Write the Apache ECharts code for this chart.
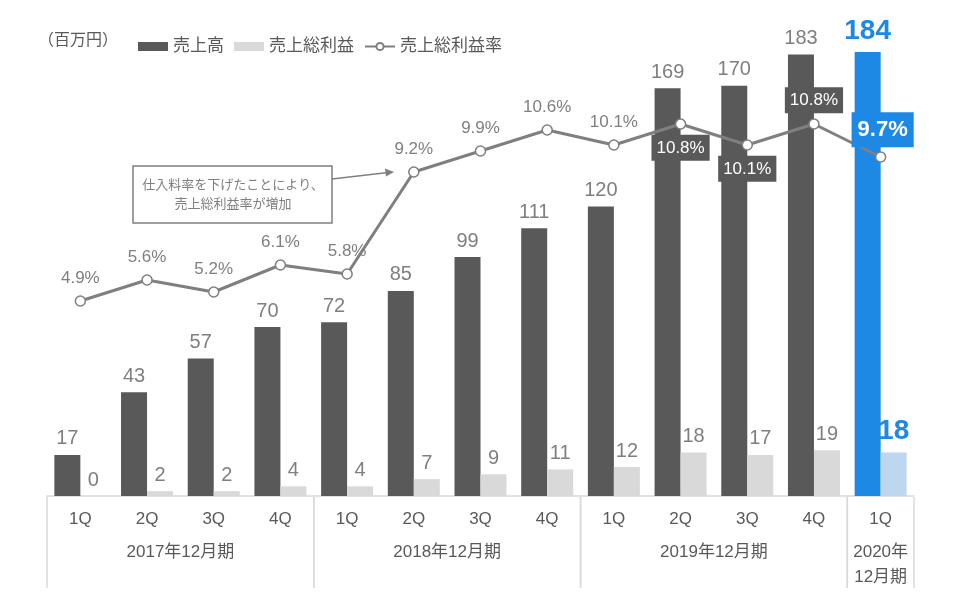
<!DOCTYPE html>
<html>
<head>
<meta charset="utf-8">
<script src="https://cdn.jsdelivr.net/npm/echarts@6/dist/echarts.min.js"></script>
<style>html,body{margin:0;padding:0;background:#fff}#c{width:954px;height:604px}</style>
</head>
<body>
<div id="c"></div>
<script>
const quarters = ['1Q','2Q','3Q','4Q','1Q','2Q','3Q','4Q','1Q','2Q','3Q','4Q','1Q'];
const yearGroups = [
  {start:0, end:3, label:'2017年12月期'},
  {start:4, end:7, label:'2018年12月期'},
  {start:8, end:11, label:'2019年12月期'},
  {start:12, end:12, label:'2020年\n12月期'}
];
const sales = [17,43,57,70,72,85,99,111,120,169,170,183,184];
const grossProfit = [0,2,2,4,4,7,9,11,12,18,17,19,18];
const grossMargin = [4.9,5.6,5.2,6.1,5.8,9.2,9.9,10.6,10.1,10.8,10.1,10.8,9.7];

const FONT = '"Liberation Sans", "Noto Sans CJK JP", sans-serif';
const DARK = '#595959', LIGHT = '#d9d9d9', BLUE = '#1e88e5', LBLUE = '#bdd7ee', GRAY = '#7f7f7f';
const last = sales.length - 1;

const salesData = sales.map((v,i)=> i===last ? {value:v, itemStyle:{color:BLUE},
  label:{color:BLUE, fontSize:28, fontWeight:'bold', distance:7}} : v);
const gpData = grossProfit.map((v,i)=> i===last ? {value:v, itemStyle:{color:LBLUE},
  label:{color:BLUE, fontSize:28, fontWeight:'bold', distance:7}} : v);
const boxLabel = (pos)=>({position:pos, distance:5, color:'#fff', backgroundColor:DARK, padding:[5,5,4,5], fontSize:17});
const marginData = grossMargin.map((v,i)=>{
  if (i===9 || i===10) return {value:v, label:boxLabel('bottom')};
  if (i===11) return {value:v, label:boxLabel('top')};
  if (i===last) return {value:v, label:{position:'top', distance:4, offset:[2,0], color:'#fff', backgroundColor:BLUE,
    padding:[7,6,6,6], fontSize:22, fontWeight:'bold'}};
  return v;
});

const chart = echarts.init(document.getElementById('c'));
chart.setOption({
  animation:false,
  textStyle:{fontFamily:FONT},
  legend:{
    left:133, top:33, itemWidth:30, itemHeight:9, itemGap:10,
    textStyle:{fontSize:17, color:DARK, fontFamily:FONT},
    data:[{name:'売上高', icon:'rect'},{name:'売上総利益', icon:'rect'},{name:'売上総利益率'}]
  },
  grid:[
    {left:47, right:40, top:52, bottom:108},
    {left:47, right:40, top:497, height:91}
  ],
  xAxis:[
    {type:'category', gridIndex:0, data:quarters,
     axisLine:{lineStyle:{color:LIGHT, width:1.5}}, axisTick:{show:false},
     axisLabel:{margin:15, fontSize:17, color:DARK, fontFamily:FONT}},
    {type:'value', gridIndex:1, min:-0.5, max:12.5, show:false}
  ],
  yAxis:[
    {type:'value', gridIndex:0, min:0, max:184, show:false},
    {type:'value', gridIndex:0, min:-1.6, max:13.2, show:false},
    {type:'value', gridIndex:1, min:0, max:1, show:false}
  ],
  graphic:[
    {type:'text', left:38, top:33, style:{text:'（百万円）', fill:DARK, font:'16px '+FONT}},
    {type:'rect', shape:{x:133, y:166, width:199, height:57}, style:{fill:'#fff', stroke:GRAY, lineWidth:1.5}, z:5},
    {type:'text', x:233, y:195, style:{text:'仕入料率を下げたことにより、\n売上総利益率が増加', fill:GRAY, font:'13px '+FONT, align:'center', verticalAlign:'middle', lineHeight:19}, z:6},
    {type:'line', shape:{x1:332, y1:179, x2:386, y2:172.8}, style:{stroke:GRAY, lineWidth:1.5}, z:5},
    {type:'polygon', shape:{points:[[394,172],[385,168.5],[386,176.5]]}, style:{fill:GRAY}, z:5}
  ],
  series:[
    {name:'売上高', type:'bar', xAxisIndex:0, yAxisIndex:0, data:salesData, barWidth:26, barGap:'0%',
     itemStyle:{color:DARK},
     label:{show:true, position:'top', distance:6, fontSize:20, color:GRAY, fontFamily:FONT}},
    {name:'売上総利益', type:'bar', xAxisIndex:0, yAxisIndex:0, data:gpData, barWidth:26,
     itemStyle:{color:LIGHT},
     label:{show:true, position:'top', distance:6, fontSize:20, color:GRAY, fontFamily:FONT}},
    {name:'売上総利益率', type:'line', xAxisIndex:0, yAxisIndex:1, data:marginData, z:10,
     lineStyle:{color:GRAY, width:3}, symbol:'circle', symbolSize:10,
     itemStyle:{color:'#fff', borderColor:GRAY, borderWidth:1.5},
     label:{show:true, position:'top', distance:8, fontSize:17, color:GRAY, fontFamily:FONT,
       formatter:(p)=>p.value.toFixed(1)+'%'}},
    {type:'custom', xAxisIndex:1, yAxisIndex:2, silent:true,
     data:yearGroups.map(g=>[g.start, g.end]),
     renderItem:(params, api)=>{
       const g = yearGroups[params.dataIndex];
       const x0 = api.coord([g.start-0.5, 0])[0];
       const x1 = api.coord([g.end+0.5, 0])[0];
       const yTop = api.coord([0,1])[1];
       const yBot = api.coord([0,0])[1];
       const multi = g.label.indexOf('\n')>=0;
       return {type:'group', children:[
         {type:'line', shape:{x1:x0, y1:yTop, x2:x0, y2:yBot}, style:{stroke:LIGHT, lineWidth:1.5}},
         {type:'line', shape:{x1:x1, y1:yTop, x2:x1, y2:yBot}, style:{stroke:LIGHT, lineWidth:1.5}},
         {type:'text', x:(x0+x1)/2, y:yTop + (multi ? 68 : 55),
          style:{text:g.label, font:'17px '+FONT, fill:DARK, align:'center', verticalAlign:'middle', lineHeight:25}}
       ]};
     }}
  ]
});
</script>
</body>
</html>
